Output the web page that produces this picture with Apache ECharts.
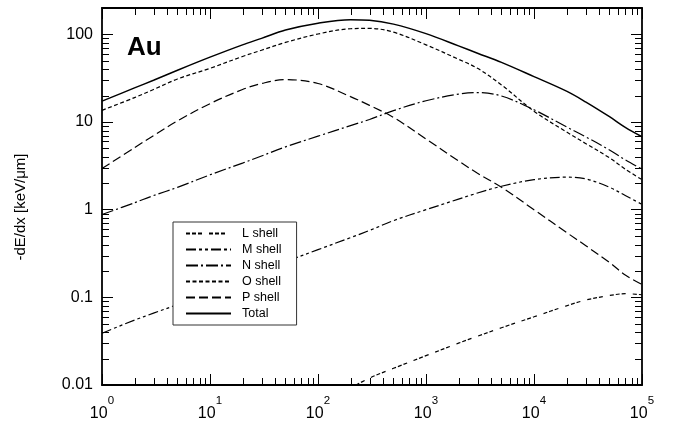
<!DOCTYPE html>
<html>
<head>
<meta charset="utf-8">
<script src="https://cdn.jsdelivr.net/npm/echarts@6/dist/echarts.min.js"></script>
<style>
html,body{margin:0;padding:0;background:#fff;}
#chart{width:674px;height:428px;}
</style>
</head>
<body>
<div id="chart"></div>
<script>
// ---- data ----
const energies = [1, 2, 3, 5, 10, 20, 30, 50, 100, 200, 300, 500, 1000, 2000, 3000, 5000, 1e4, 2e4, 3e4, 5e4, 7e4, 1e5];
const totalVals = [17.3, 24.5, 30, 39, 55, 76, 90, 112, 134, 147, 145, 131, 102, 74, 61, 48, 33, 22.5, 17.0, 11.5, 8.7, 6.8];
const oShell   = [13.6, 19, 23.5, 31, 41, 56, 66, 81, 101, 116, 117, 106, 76, 52, 41, 26.5, 13.3, 7.7, 5.7, 3.9, 2.9, 2.2];
const pShell   = [2.95, 5.1, 7, 10.3, 16.2, 23.5, 27.5, 30.5, 27.5, 19.5, 15.5, 11.3, 6.4, 3.6, 2.6, 1.8, 1.0, 0.55, 0.39, 0.25, 0.18, 0.14];
const nShell   = [0.88, 1.2, 1.45, 1.8, 2.5, 3.4, 4.1, 5.2, 6.9, 9.1, 10.7, 13.5, 17.5, 20.8, 21.7, 19.8, 13.8, 8.8, 6.8, 4.8, 3.7, 2.9];
const mShell   = [0.039, 0.055, 0.066, 0.083, 0.118, 0.165, 0.2, 0.255, 0.35, 0.48, 0.58, 0.75, 1.0, 1.32, 1.55, 1.85, 2.2, 2.35, 2.25, 1.8, 1.45, 1.15];
const lEnergies = [200, 300, 500, 1000, 2000, 3000, 5000, 1e4, 2e4, 3e4, 5e4, 7e4, 1e5];
const lShell   = [0.0092, 0.012, 0.0155, 0.0216, 0.030, 0.036, 0.045, 0.060, 0.080, 0.093, 0.105, 0.11, 0.107];
const legendNames = ['L shell', 'M shell', 'N shell', 'O shell', 'P shell', 'Total'];
const xRange = [1, 1e5];
const yRange = [0.01, 200];
const minorMultipliers = [2, 3, 4, 5, 6, 7, 8, 9];
const panelLabel = 'Au';
const yTitle = '-dE/dx [keV/\u03bcm]';

const FONT = 'Liberation Sans, Arial, Helvetica, sans-serif';
const zip = (xs, ys) => xs.map((x, i) => [x, ys[i]]);

const chart = echarts.init(document.getElementById('chart'), null, {renderer: 'canvas'});

function lineSeries(name, data, dash, width) {
  return {
    name, type: 'line', data, symbol: 'none', smooth: 0.35,
    clip: true, animation: false, z: 3,
    itemStyle: {color: '#000'},
    lineStyle: {color: '#000', width: width || 1.2, type: dash}
  };
}

function minorTicks(params, api) {
  const children = [];
  const yb = api.coord([xRange[0], yRange[0]])[1];
  const yt = api.coord([xRange[0], yRange[1]])[1];
  const xl = api.coord([xRange[0], yRange[0]])[0];
  const xr = api.coord([xRange[1], yRange[0]])[0];
  const st = {stroke: '#000', lineWidth: 1};
  const L = 7;
  for (let k = 0; k < 5; k++) {
    minorMultipliers.forEach(m => {
      const v = m * Math.pow(10, k);
      const x = Math.round(api.coord([v, 1])[0]) + 0.5;
      children.push({type: 'line', shape: {x1: x, y1: yb, x2: x, y2: yb - L}, style: st});
      children.push({type: 'line', shape: {x1: x, y1: yt, x2: x, y2: yt + L}, style: st});
    });
  }
  for (let k = -2; k <= 2; k++) {
    minorMultipliers.forEach(m => {
      const v = m * Math.pow(10, k);
      if (v >= yRange[1]) return;
      const y = Math.round(api.coord([1, v])[1]) + 0.5;
      children.push({type: 'line', shape: {x1: xl, y1: y, x2: xl + L, y2: y}, style: st});
      children.push({type: 'line', shape: {x1: xr, y1: y, x2: xr - L, y2: y}, style: st});
    });
  }
  return {type: 'group', children};
}

const majorTick = {show: true, inside: true, length: 11, lineStyle: {color: '#000', width: 1}};
const frameLine = {show: true, onZero: false, lineStyle: {color: '#000', width: 1.8}};

const option = {
  animation: false,
  backgroundColor: '#fff',
  grid: {left: 102, right: 32, top: 8, bottom: 43, containLabel: false},
  xAxis: [
    {
      type: 'log', logBase: 10, min: xRange[0], max: xRange[1],
      axisLine: frameLine, axisTick: majorTick, splitLine: {show: false}, minorTick: {show: false},
      axisLabel: {
        margin: 10, color: '#000',
        formatter: v => '{b|10}{sp| }{s|' + Math.round(Math.log10(v)) + '}',
        rich: {
          b: {fontSize: 16, fontFamily: FONT, color: '#000', lineHeight: 16, verticalAlign: 'bottom'},
          sp: {fontSize: 1, fontFamily: FONT, color: '#000', lineHeight: 27, verticalAlign: 'bottom'},
          s: {fontSize: 11.5, fontFamily: FONT, color: '#000', lineHeight: 12, verticalAlign: 'top'}
        }
      }
    },
    {
      type: 'log', logBase: 10, min: xRange[0], max: xRange[1], position: 'top',
      axisLine: frameLine, axisTick: majorTick, axisLabel: {show: false}, splitLine: {show: false}
    }
  ],
  yAxis: [
    {
      type: 'log', logBase: 10, min: yRange[0], max: yRange[1],
      axisLine: frameLine, axisTick: majorTick, splitLine: {show: false}, minorTick: {show: false},
      axisLabel: {
        margin: 9, color: '#000', fontSize: 16, fontFamily: FONT, showMaxLabel: false,
        formatter: v => String(Number(v.toPrecision(6)))
      }
    },
    {
      type: 'log', logBase: 10, min: yRange[0], max: yRange[1], position: 'right',
      axisLine: frameLine, axisTick: majorTick, axisLabel: {show: false}, splitLine: {show: false}
    }
  ],
  legend: {
    data: legendNames,
    orient: 'vertical', left: 173, top: 222,
    itemWidth: 45, itemHeight: 10, itemGap: 3,
    padding: [5, 15, 5, 12],
    borderColor: '#333', borderWidth: 1, backgroundColor: '#fff',
    selectedMode: false,
    itemStyle: {opacity: 0},
    textStyle: {fontSize: 12.5, lineHeight: 13, fontFamily: FONT, color: '#000', padding: [0, 0, 0, 6]}
  },
  graphic: [
    {type: 'text', left: 127, top: 35, style: {text: panelLabel, font: 'bold 26px ' + FONT, fill: '#000'}},
    {type: 'text', x: 21, y: 207, rotation: Math.PI / 2,
     style: {text: yTitle, font: '15px ' + FONT, fill: '#000', align: 'center', verticalAlign: 'middle'}}
  ],
  series: [
    lineSeries('L shell', zip(lEnergies, lShell), [4, 2, 4, 2, 4, 7]),
    lineSeries('M shell', zip(energies, mShell), [10, 3, 3, 3, 3, 3]),
    lineSeries('N shell', zip(energies, nShell), [12, 3, 2, 3]),
    lineSeries('O shell', zip(energies, oShell), [4, 2.5]),
    lineSeries('P shell', zip(energies, pShell), [9, 4]),
    lineSeries('Total', zip(energies, totalVals), 'solid', 1.5),
    {
      type: 'custom', name: 'minor ticks', coordinateSystem: 'cartesian2d',
      data: [[1, 1]], clip: false, silent: true, z: 5, renderItem: minorTicks
    }
  ]
};
chart.setOption(option);
</script>
</body>
</html>
